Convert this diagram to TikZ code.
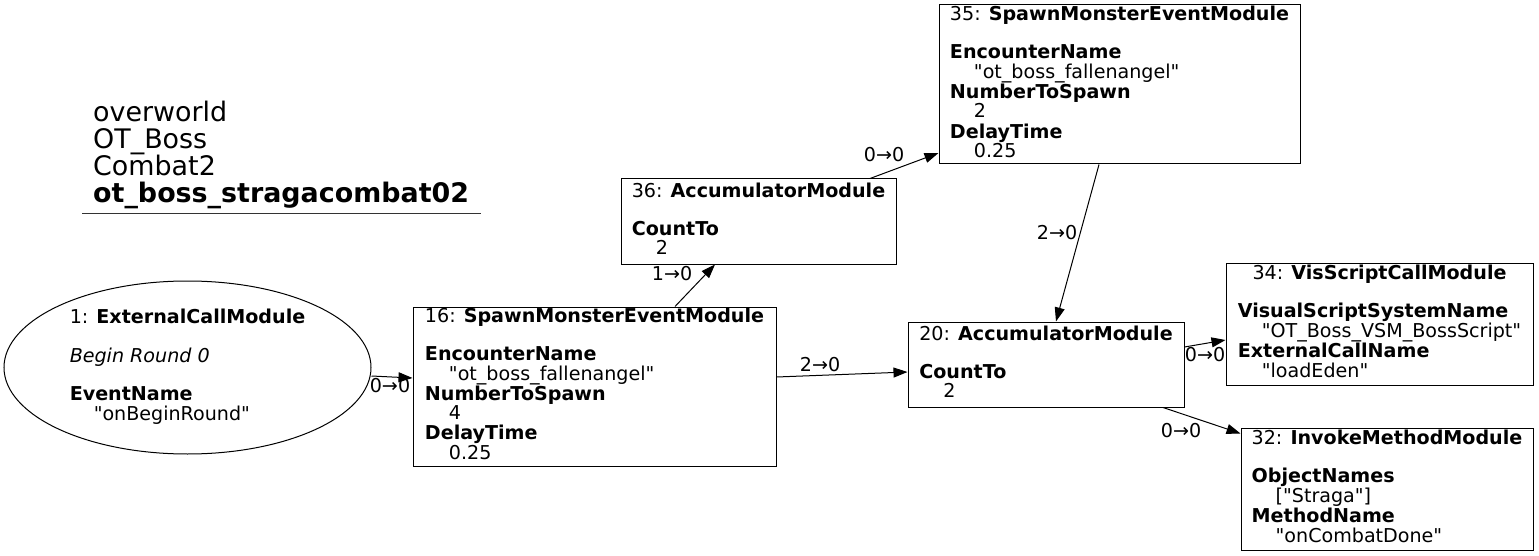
\documentclass[tikz,border=0pt]{standalone}
\usepackage{fontspec}
\setmainfont{DejaVu Sans}[Ligatures=TeXOff]
\usetikzlibrary{arrows.meta,shapes.geometric}
\newcommand\valind{\hspace*{24pt}}
\newcommand\ttlrow[1]{\multicolumn{1}{@{}c@{}}{#1}}
\begin{document}
\begin{tikzpicture}[x=1pt,y=-1pt,
  txt/.style={font=\fontsize{19.1}{18.5}\selectfont},
  mod/.style={txt, draw, rectangle, line width=1pt, inner sep=0pt},
  ell/.style={txt, draw, ellipse, line width=1pt, inner sep=0pt},
  arr/.style={-{Triangle[length=14pt,width=10pt]}, line width=1pt},
  lbl/.style={txt, inner sep=0pt}]
\useasboundingbox (0,0) rectangle (1539,556);

% title
\node[anchor=north west, align=left, inner sep=0pt, font=\fontsize{26.9}{27}\selectfont] (title) at (93,101)
  {overworld\\OT\_Boss\\Combat2\\\textbf{ot\_boss\_stragacombat02}};
\draw[line width=1pt, black!80] (82,214) -- (481,214);

% nodes
\node[ell, minimum width=367pt, minimum height=173pt] (n1) at (187.5,367.5)
  {\begin{tabular}{@{}l@{}}1: \textbf{ExternalCallModule}\\ \\ \textit{Begin Round 0}\\ \\ \textbf{EventName}\\ \valind"onBeginRound"\end{tabular}};

\node[mod, minimum width=363pt, minimum height=159pt] (n16) at (594.5,386.5)
  {\begin{tabular}{@{}l@{}}\ttlrow{16: \textbf{SpawnMonsterEventModule}}\\ \\ \textbf{EncounterName}\\ \valind"ot\_boss\_fallenangel"\\ \textbf{NumberToSpawn}\\ \valind 4\\ \textbf{DelayTime}\\ \valind 0.25\end{tabular}};

\node[mod, minimum width=275pt, minimum height=85pt] (n36) at (758.5,221.5)
  {\begin{tabular}{@{}l@{}}\ttlrow{36: \textbf{AccumulatorModule}}\\ \\ \textbf{CountTo}\\ \valind 2\end{tabular}};

\node[mod, minimum width=361pt, minimum height=159pt] (n35) at (1119.5,84.5)
  {\begin{tabular}{@{}l@{}}\ttlrow{35: \textbf{SpawnMonsterEventModule}}\\ \\ \textbf{EncounterName}\\ \valind"ot\_boss\_fallenangel"\\ \textbf{NumberToSpawn}\\ \valind 2\\ \textbf{DelayTime}\\ \valind 0.25\end{tabular}};

\node[mod, minimum width=276pt, minimum height=85pt] (n20) at (1046,364.5)
  {\begin{tabular}{@{}l@{}}\ttlrow{20: \textbf{AccumulatorModule}}\\ \\ \textbf{CountTo}\\ \valind 2\end{tabular}};

\node[mod, minimum width=307pt, minimum height=122pt] (n34) at (1379.5,324)
  {\begin{tabular}{@{}l@{}}\ttlrow{34: \textbf{VisScriptCallModule}}\\ \\ \textbf{VisualScriptSystemName}\\ \valind"OT\_Boss\_VSM\_BossScript"\\ \textbf{ExternalCallName}\\ \valind"loadEden"\end{tabular}};

\node[mod, minimum width=292pt, minimum height=122pt] (n32) at (1387,489)
  {\begin{tabular}{@{}l@{}}\ttlrow{32: \textbf{InvokeMethodModule}}\\ \\ \textbf{ObjectNames}\\ \valind["Straga"]\\ \textbf{MethodName}\\ \valind"onCombatDone"\end{tabular}};

% edges
\draw[arr] ([yshift=-8.5pt]n1.east) -- ([yshift=8.5pt]n16.west);
\draw[arr] ([xshift=80.5pt]n16.north) -- ([xshift=-43.5pt]n36.south);
\draw[arr] ([xshift=111.5pt]n36.north) -- ([yshift=-68.5pt]n35.west);
\draw[arr] ([yshift=9.5pt]n16.east) -- ([yshift=-7.5pt]n20.west);
\draw[arr] ([xshift=-20.5pt]n35.south) -- ([xshift=10pt]n20.north);
\draw[arr] ([yshift=17.5pt]n20.east) -- ([yshift=-16pt]n34.west);
\draw[arr] ([xshift=117pt]n20.south) -- ([yshift=-6pt]n32.north west);

% edge labels
\node[lbl] (l1) at (390,386) {0→0};
\node[lbl] (l2) at (672,274) {1→0};
\node[lbl] (l3) at (884,155) {0→0};
\node[lbl] (l4) at (820,365) {2→0};
\node[lbl] (l5) at (1057,233) {2→0};
\node[lbl] (l6) at (1205,355) {0→0};
\node[lbl] (l7) at (1181,431) {0→0};
\end{tikzpicture}
\end{document}
